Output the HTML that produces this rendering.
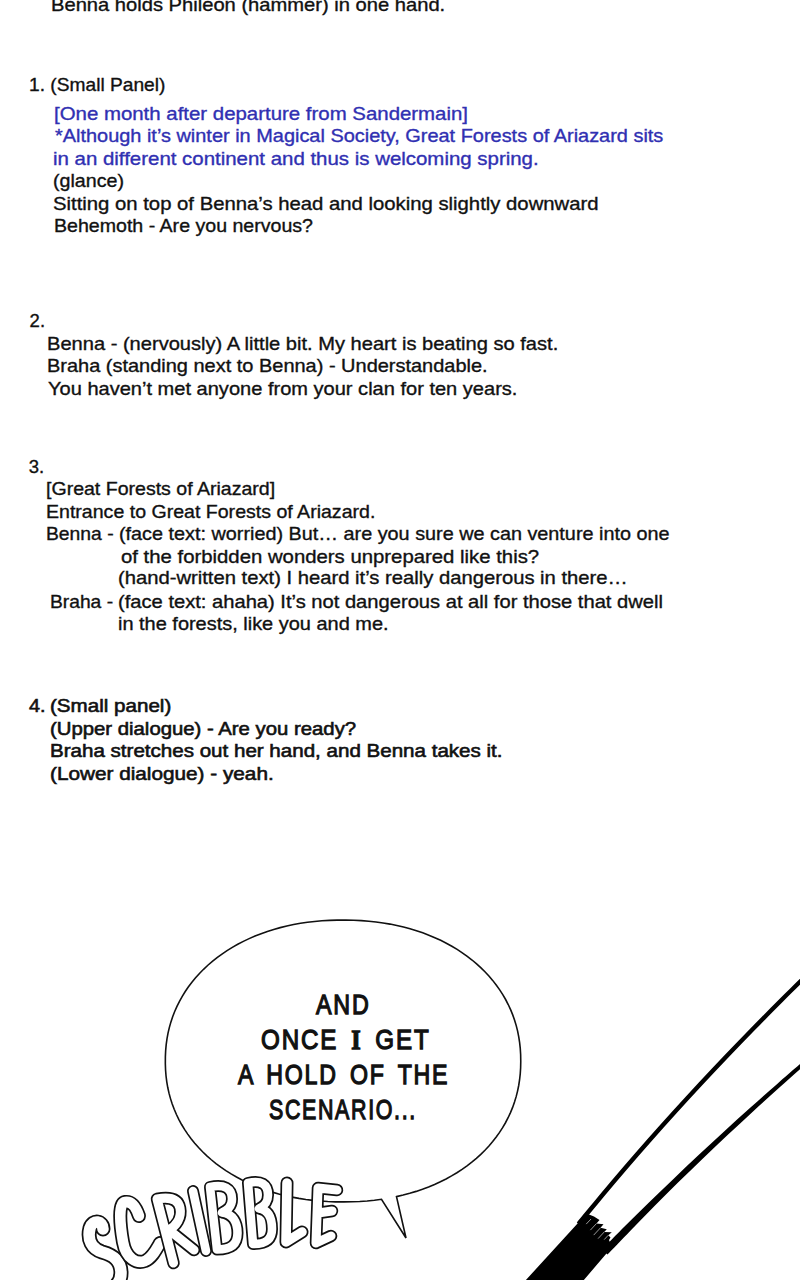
<!DOCTYPE html>
<html><head><meta charset="utf-8"><style>
html,body{margin:0;padding:0;background:#fff;}
body{width:800px;height:1280px;position:relative;overflow:hidden;}
.t{position:absolute;white-space:nowrap;font-family:"Liberation Sans",sans-serif;font-size:18.5px;line-height:20px;color:#111;-webkit-text-stroke:0.35px #111;transform-origin:0 0;}
.t.b{color:#3030b2;-webkit-text-stroke:0.35px #3030b2;}
.t.m{-webkit-text-stroke:0.6px #111;}
svg{position:absolute;left:0;top:0;}
.t.bt{font-size:28.3px;line-height:32px;-webkit-text-stroke:1.3px #111;letter-spacing:2.2px;word-spacing:5px;z-index:2;}
.sc{font-family:"Liberation Sans",sans-serif;font-weight:bold;fill:#fff;stroke:#111;stroke-linejoin:round;}
</style></head><body>
<div class="t" style="left:50.50px;top:-5.21px;transform:scaleX(1.0889)">Benna holds Phileon (hammer) in one hand.</div>
<div class="t" style="left:28.60px;top:74.89px;transform:scaleX(1.0364)">1. (Small Panel)</div>
<div class="t b" style="left:54.00px;top:103.69px;transform:scaleX(1.1031)">[One month after departure from Sandermain]</div>
<div class="t b" style="left:55.00px;top:126.19px;transform:scaleX(1.0770)">*Although it’s winter in Magical Society, Great Forests of Ariazard sits</div>
<div class="t b" style="left:53.40px;top:148.69px;transform:scaleX(1.1042)">in an different continent and thus is welcoming spring.</div>
<div class="t" style="left:53.40px;top:170.99px;transform:scaleX(1.0617)">(glance)</div>
<div class="t" style="left:53.40px;top:194.29px;transform:scaleX(1.0967)">Sitting on top of Benna’s head and looking slightly downward</div>
<div class="t" style="left:54.00px;top:216.19px;transform:scaleX(1.0582)">Behemoth - Are you nervous?</div>
<div class="t" style="left:29.60px;top:311.19px;transform:scaleX(1.0000)">2.</div>
<div class="t" style="left:46.75px;top:333.69px;transform:scaleX(1.0855)">Benna - (nervously) A little bit. My heart is beating so fast.</div>
<div class="t" style="left:46.50px;top:355.54px;transform:scaleX(1.0792)">Braha (standing next to Benna) - Understandable.</div>
<div class="t" style="left:47.50px;top:378.69px;transform:scaleX(1.0834)">You haven’t met anyone from your clan for ten years.</div>
<div class="t" style="left:28.75px;top:456.79px;transform:scaleX(1.0000)">3.</div>
<div class="t" style="left:46.00px;top:479.29px;transform:scaleX(1.0562)">[Great Forests of Ariazard]</div>
<div class="t" style="left:45.70px;top:501.79px;transform:scaleX(1.0571)">Entrance to Great Forests of Ariazard.</div>
<div class="t" style="left:45.70px;top:524.29px;transform:scaleX(1.0428)">Benna -</div>
<div class="t" style="left:118.60px;top:524.29px;transform:scaleX(1.0707)">(face text: worried) But… are you sure we can venture into one</div>
<div class="t" style="left:121.00px;top:546.79px;transform:scaleX(1.0988)">of the forbidden wonders unprepared like this?</div>
<div class="t" style="left:117.60px;top:568.49px;transform:scaleX(1.0927)">(hand-written text) I heard it’s really dangerous in there…</div>
<div class="t" style="left:49.70px;top:591.69px;transform:scaleX(1.0390)">Braha -</div>
<div class="t" style="left:118.25px;top:591.69px;transform:scaleX(1.0888)">(face text: ahaha) It’s not dangerous at all for those that dwell</div>
<div class="t" style="left:117.60px;top:614.29px;transform:scaleX(1.0782)">in the forests, like you and me.</div>
<div class="t m" style="left:29.00px;top:695.99px;transform:scaleX(1.0714)">4.</div>
<div class="t m" style="left:50.00px;top:695.99px;transform:scaleX(1.1126)">(Small panel)</div>
<div class="t m" style="left:49.70px;top:719.29px;transform:scaleX(1.0984)">(Upper dialogue) - Are you ready?</div>
<div class="t m" style="left:49.70px;top:740.99px;transform:scaleX(1.1111)">Braha stretches out her hand, and Benna takes it.</div>
<div class="t m" style="left:49.70px;top:764.29px;transform:scaleX(1.1212)">(Lower dialogue) - yeah.</div>
<svg width="800" height="1280" viewBox="0 0 800 1280">
<path d="M396.50,1196.61 L403.18,1195.07 L409.73,1193.32 L416.15,1191.39 L422.43,1189.27 L428.56,1186.96 L434.55,1184.47 L440.38,1181.80 L446.05,1178.95 L451.56,1175.93 L456.89,1172.74 L462.05,1169.38 L467.02,1165.86 L471.80,1162.19 L476.39,1158.36 L480.78,1154.38 L484.96,1150.25 L488.94,1145.99 L492.69,1141.59 L496.23,1137.06 L499.54,1132.41 L502.63,1127.63 L505.48,1122.74 L508.10,1117.73 L510.48,1112.62 L512.62,1107.40 L514.51,1102.08 L516.16,1096.65 L517.55,1091.12 L518.70,1085.49 L519.60,1079.74 L520.24,1073.85 L520.63,1067.77 L520.76,1061.20 L520.64,1054.54 L520.26,1048.44 L519.63,1042.55 L518.75,1036.79 L517.62,1031.15 L516.23,1025.62 L514.60,1020.19 L512.72,1014.86 L510.59,1009.64 L508.22,1004.52 L505.62,999.51 L502.78,994.61 L499.70,989.83 L496.40,985.17 L492.87,980.63 L489.13,976.22 L485.17,971.95 L480.99,967.82 L476.61,963.84 L472.04,960.00 L467.26,956.32 L462.30,952.79 L457.15,949.42 L451.83,946.22 L446.33,943.19 L440.66,940.34 L434.84,937.66 L428.86,935.16 L422.73,932.84 L416.46,930.71 L410.05,928.77 L403.51,927.02 L396.83,925.46 L390.03,924.09 L383.10,922.93 L376.03,921.96 L368.83,921.19 L361.46,920.62 L353.87,920.26 L345.88,920.09 L337.23,920.13 L329.44,920.37 L321.94,920.80 L314.63,921.45 L307.48,922.29 L300.46,923.33 L293.58,924.56 L286.82,926.00 L280.19,927.63 L273.70,929.45 L267.34,931.46 L261.12,933.66 L255.04,936.04 L249.12,938.61 L243.35,941.35 L237.75,944.27 L232.31,947.36 L227.05,950.62 L221.97,954.04 L217.07,957.63 L212.37,961.37 L207.86,965.26 L203.56,969.30 L199.46,973.48 L195.57,977.80 L191.91,982.25 L188.46,986.84 L185.24,991.54 L182.25,996.37 L179.49,1001.30 L176.97,1006.36 L174.69,1011.51 L172.65,1016.78 L170.86,1022.14 L169.32,1027.61 L168.02,1033.18 L166.98,1038.86 L166.19,1044.66 L165.65,1050.62 L165.37,1056.82 L165.34,1063.70 L165.56,1070.00 L166.04,1076.00 L166.78,1081.83 L167.76,1087.54 L169.00,1093.13 L170.49,1098.62 L172.22,1104.01 L174.21,1109.30 L176.43,1114.48 L178.90,1119.55 L181.60,1124.52 L184.54,1129.37 L187.71,1134.10 L191.10,1138.71 L194.72,1143.20 L198.55,1147.55 L202.60,1151.76 L206.86,1155.83 L211.32,1159.76 L215.98,1163.53 L220.83,1167.15 L225.87,1170.61 L231.10,1173.91 L236.49,1177.04 L242.06,1180.00 L247.79,1182.78 L253.68,1185.39 L259.72,1187.82 L265.91,1190.06 L272.23,1192.11 L278.70,1193.98 L285.30,1195.65 L292.03,1197.13 L298.88,1198.41 L305.87,1199.49 L312.99,1200.38 L320.26,1201.07 L327.71,1201.55 L335.42,1201.84 L343.92,1201.92 L352.10,1201.80 L359.75,1201.48 L367.16,1200.96 L374.40,1200.23 L381.50,1199.31 L406,1238 Z" fill="#fff" stroke="#111" stroke-width="1.6" stroke-linejoin="miter"/>
<g fill="none" stroke-linecap="round" stroke-linejoin="round">
<path d="M103,1229 C103,1221 93,1219 90,1228 C87,1240 92,1249 102,1252 C113,1255 121,1260 121,1273 C121,1284 112,1290 102,1292" stroke="#111" stroke-width="15"/><path d="M103,1229 C103,1221 93,1219 90,1228 C87,1240 92,1249 102,1252 C113,1255 121,1260 121,1273 C121,1284 112,1290 102,1292" stroke="#fff" stroke-width="11.6"/>
<path d="M139,1216 C136,1207 132,1201 125,1202 C118,1203 120,1225 123,1242 C126,1259 137,1264 145,1261 C152,1258 156,1250 160,1243" stroke="#111" stroke-width="14"/><path d="M139,1216 C136,1207 132,1201 125,1202 C118,1203 120,1225 123,1242 C126,1259 137,1264 145,1261 C152,1258 156,1250 160,1243" stroke="#fff" stroke-width="10.6"/>
<path d="M173.5,1263 L157,1199 C168,1197 178,1198 180,1208 C182,1218 176,1226 169,1230 L194,1250" stroke="#111" stroke-width="12.5"/><path d="M173.5,1263 L157,1199 C168,1197 178,1198 180,1208 C182,1218 176,1226 169,1230 L194,1250" stroke="#fff" stroke-width="9.1"/>
<path d="M193,1191 L206,1251" stroke="#111" stroke-width="12"/><path d="M193,1191 L206,1251" stroke="#fff" stroke-width="8.6"/>
<path d="M217,1249.5 L210,1187 C224,1184 232,1188 232,1199 C232,1207 227,1210 222,1212.5 C233,1214 237.5,1222 237.5,1233 C237.5,1246 229,1249.5 217,1249.5" stroke="#111" stroke-width="12"/><path d="M217,1249.5 L210,1187 C224,1184 232,1188 232,1199 C232,1207 227,1210 222,1212.5 C233,1214 237.5,1222 237.5,1233 C237.5,1246 229,1249.5 217,1249.5" stroke="#fff" stroke-width="8.6"/>
<path d="M253,1244 L248,1183 C261,1180 268,1184 268,1195 C268,1203 264,1206 259,1208.5 C269,1210 272,1218 272,1229 C272,1241 264,1244 253,1244" stroke="#111" stroke-width="12"/><path d="M253,1244 L248,1183 C261,1180 268,1184 268,1195 C268,1203 264,1206 259,1208.5 C269,1210 272,1218 272,1229 C272,1241 264,1244 253,1244" stroke="#fff" stroke-width="8.6"/>
<path d="M287,1183 L286,1242 L302,1232" stroke="#111" stroke-width="13"/><path d="M287,1183 L286,1242 L302,1232" stroke="#fff" stroke-width="9.6"/>
<path d="M318,1188 L316,1243 M318,1188 L337,1190 M318,1213 L332,1211 M316,1243 L331,1236" stroke="#111" stroke-width="12.5"/><path d="M318,1188 L316,1243 M318,1188 L337,1190 M318,1213 L332,1211 M316,1243 L331,1236" stroke="#fff" stroke-width="9.1"/>
</g>
<path d="M808.4,970.5 C803.7,975.1 789.4,989.1 780.0,998.5 C770.7,1007.8 761.4,1017.2 752.3,1026.5 C743.2,1035.8 734.2,1045.2 725.2,1054.5 C716.3,1063.9 707.5,1073.2 698.8,1082.5 C690.2,1091.9 681.6,1101.2 673.1,1110.6 C664.6,1119.9 656.3,1129.2 648.0,1138.6 C639.8,1147.9 631.6,1157.3 623.6,1166.6 C615.6,1175.9 607.7,1185.3 599.9,1194.6 C592.1,1204.0 580.6,1218.0 576.8,1222.6 L580.1,1225.4 C584.0,1220.7 595.4,1206.7 603.2,1197.4 C611.0,1188.1 618.9,1178.7 626.9,1169.4 C634.9,1160.1 643.0,1150.7 651.3,1141.4 C659.5,1132.1 667.8,1122.8 676.3,1113.4 C684.7,1104.1 693.3,1094.8 702.0,1085.5 C710.7,1076.1 719.5,1066.8 728.4,1057.5 C737.3,1048.2 746.3,1038.8 755.4,1029.5 C764.5,1020.2 773.7,1010.9 783.1,1001.5 C792.4,992.2 806.7,978.2 811.5,973.5 Z" fill="#000"/>
<path d="M804.1,1060.6 C799.5,1064.5 785.9,1076.3 776.9,1084.2 C767.9,1092.0 759.0,1099.9 750.2,1107.8 C741.4,1115.7 732.7,1123.5 724.1,1131.4 C715.6,1139.3 707.1,1147.2 698.6,1155.0 C690.2,1162.9 681.9,1170.8 673.7,1178.7 C665.5,1186.5 657.3,1194.3 649.2,1202.2 C641.2,1210.0 633.2,1217.9 625.3,1225.8 C617.5,1233.6 606.0,1245.4 602.1,1249.4 L607.5,1254.6 C611.3,1250.6 622.7,1238.7 630.4,1230.7 C638.2,1222.8 645.9,1214.8 653.8,1206.8 C661.7,1198.8 669.7,1190.8 677.8,1182.8 C685.9,1174.9 694.1,1166.9 702.4,1159.0 C710.7,1151.0 719.1,1143.1 727.6,1135.1 C736.1,1127.1 744.7,1119.2 753.3,1111.2 C762.0,1103.3 770.8,1095.3 779.7,1087.3 C788.5,1079.4 802.1,1067.4 806.6,1063.4 Z" fill="#000"/>
<path d="M525,1281 L578,1223 L583,1218 L589,1214.5 L594,1216.5 L599.5,1220 L596.5,1223.5 L603.5,1224.3 L600.5,1227.8 L606.8,1229.2 L604.2,1232 L611.8,1232.3 L608.3,1235.2 L610.5,1237.5 L609,1240 L612,1247 L583,1281 Z" fill="#000"/>
<line x1="596.5" y1="1223.5" x2="590.4" y2="1230.1" stroke="#fff" stroke-width="0.6"/>
<line x1="600.5" y1="1227.8" x2="593.7" y2="1235.1" stroke="#fff" stroke-width="0.6"/>
<line x1="604.2" y1="1232" x2="598.1" y2="1238.6" stroke="#fff" stroke-width="0.6"/>
<line x1="591" y1="1219" x2="586.2" y2="1224.1" stroke="#fff" stroke-width="0.6"/>
<line x1="608.3" y1="1235.2" x2="604.2" y2="1239.6" stroke="#fff" stroke-width="0.6"/>
</svg>
<div class="t bt" style="left:315.80px;top:987.69px;transform:scaleX(0.8224)">AND</div>
<div class="t bt" style="left:260.60px;top:1022.69px;transform:scaleX(0.8540)">ONCE <span style="font-family:'Liberation Serif',serif;font-weight:bold">I</span> GET</div>
<div class="t bt" style="left:238.20px;top:1058.19px;transform:scaleX(0.8175)">A HOLD OF THE</div>
<div class="t bt" style="left:268.80px;top:1092.69px;transform:scaleX(0.7562)">SCENARIO...</div>
</body></html>
